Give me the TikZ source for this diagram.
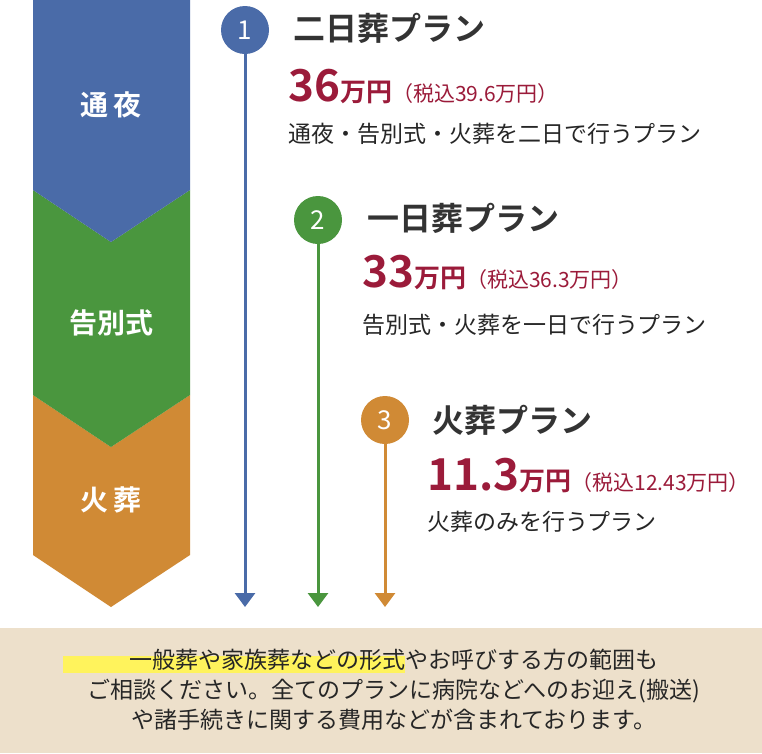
\documentclass[tikz,border=0pt]{standalone}
\usepackage{fontspec}
\setmainfont{Noto Sans CJK JP}[BoldFont={Noto Sans CJK JP Bold}]
\usetikzlibrary{positioning,arrows.meta}
\definecolor{planblue}{HTML}{4A6BA8}
\definecolor{plangreen}{HTML}{4A963E}
\definecolor{planorange}{HTML}{D08A35}
\definecolor{pricered}{HTML}{9B1B3A}
\definecolor{titlegray}{HTML}{333333}
\definecolor{notebg}{HTML}{EDE0CB}
\definecolor{marker}{HTML}{FFF35C}
\tikzset{
  stage/.style={font=\bfseries\fontsize{28}{30}\selectfont,text=white},
  num/.style={circle,minimum size=48pt,inner sep=0pt,text=white,font=\fontsize{26}{26}\selectfont},
  ptitle/.style={anchor=west,inner sep=0pt,text=titlegray,font=\bfseries\fontsize{32}{34}\selectfont},
  price/.style={anchor=west,inner sep=0pt,text=pricered},
  pdesc/.style={anchor=west,inner sep=0pt,text=black!85,font=\fontsize{23}{26}\selectfont},
  flow/.style={line width=3pt,-{Triangle[width=20pt,length=14pt]}},
}
\newcommand{\pricetext}[2]{{\bfseries\fontsize{44}{46}\selectfont #1}{\bfseries\fontsize{26}{28}\selectfont 万円}{\fontsize{21}{24}\selectfont （税込#2万円）}}
\begin{document}
\begin{tikzpicture}[x=1pt,y=-1pt]
  \useasboundingbox (0,0) rectangle (762,753);
  \fill[white] (0,0) rectangle (762,753);
  % stages
  \fill[planorange] (33,395) -- (111,447) -- (190,395) -- (190,555) -- (111,607) -- (33,555) -- cycle;
  \fill[plangreen] (33,190) -- (111,242) -- (190,190) -- (190,395) -- (111,447) -- (33,395) -- cycle;
  \fill[planblue] (33,0) -- (190,0) -- (190,190) -- (111,242) -- (33,190) -- cycle;
  \node[stage] (tsuya) at (111,105) {通\,夜};
  \node[stage] (kokubetsu) at (111,323) {告別式};
  \node[stage] (kaso) at (111,500) {火\,葬};
  % plans
  \node[num,fill=planblue] (n1) at (245,30) {1};
  \node[num,fill=plangreen] (n2) at (318,220) {2};
  \node[num,fill=planorange] (n3) at (385,420) {3};
  \coordinate (e1) at (245,607);
  \coordinate (e2) at (318,607);
  \coordinate (e3) at (385,607);
  \draw[flow,planblue] (n1) -- (e1);
  \draw[flow,plangreen] (n2) -- (e2);
  \draw[flow,planorange] (n3) -- (e3);
  \node[ptitle] (t1) at (293,28) {二日葬プラン};
  \node[price] (p1) at (288,86) {\pricetext{36}{39.6}};
  \node[pdesc] (d1) at (288,134) {通夜・告別式・火葬を二日で行うプラン};
  \node[ptitle] (t2) at (367,218) {一日葬プラン};
  \node[price] (p2) at (362,272) {\pricetext{33}{36.3}};
  \node[pdesc] (d2) at (362,325) {告別式・火葬を一日で行うプラン};
  \node[ptitle] (t3) at (432,420) {火葬プラン};
  \node[price] (p3) at (427,475) {\pricetext{11.3}{12.43}};
  \node[pdesc] (d3) at (427,522) {火葬のみを行うプラン};
  % note
  \fill[notebg] (0,628) rectangle (762,753);
  \fill[marker] (63,656) rectangle (405,673);
  \node[align=center,text=black!85,font=\fontsize{23}{30}\selectfont] (note) at (394,690)
    {一般葬や家族葬などの形式やお呼びする方の範囲も\\ご相談ください。全てのプランに病院などへのお迎え(搬送)\\や諸手続きに関する費用などが含まれております。};
\end{tikzpicture}
\end{document}
